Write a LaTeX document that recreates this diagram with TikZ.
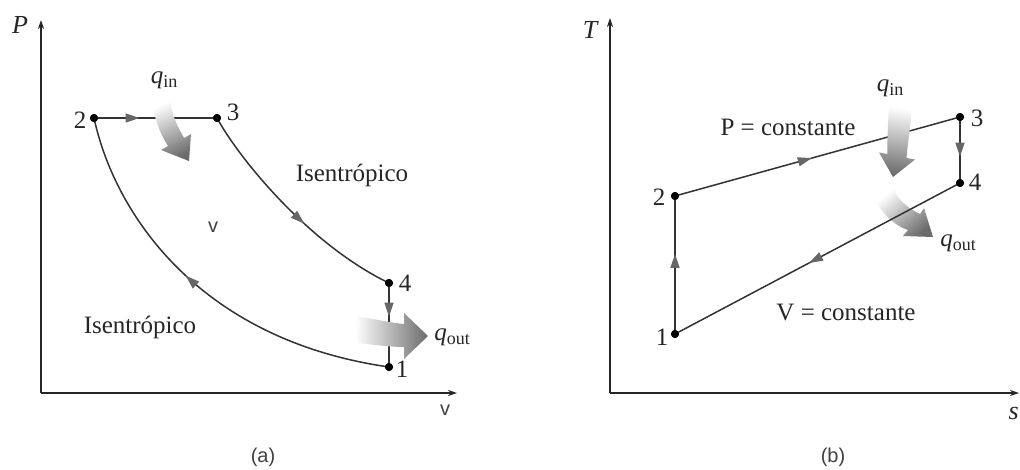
\documentclass[tikz,border=0pt]{standalone}
\usepackage{fontspec}
\setmainfont{Liberation Serif}
\newfontfamily\sansf{Liberation Sans}
\usetikzlibrary{arrows.meta,decorations.markings}
\begin{document}
\begin{tikzpicture}[x=1pt,y=-1pt,
  axis/.style={line width=2pt, draw=black!85, -{Stealth[length=9pt,width=6pt]}},
  cycleline/.style={line width=1.5pt, draw=black!80},
  midarrow/.style={postaction={decorate, decoration={markings, mark=at position #1 with {\arrow{Triangle[length=14pt,width=9pt,color=black!60]}}}}},
  dot/.style={circle, fill=black, inner sep=0pt, minimum size=8pt},
  lbl/.style={font=\fontsize{25}{28}\selectfont, inner sep=0pt, text=black!85},
  num/.style={font=\fontsize{25}{28}\selectfont, inner sep=0pt, text=black!85},
  sanslbl/.style={font=\sansf\fontsize{20}{24}\selectfont, inner sep=0pt, text=black!75},
  heat/.style={draw=none}
]
\useasboundingbox[fill=white] (0,0) rectangle (1020,469);

% ---------------- (a) P-v diagram ----------------
\coordinate (oa) at (41,393);
\coordinate (pa) at (41,20);
\coordinate (va) at (457,393);
\draw[axis] (oa) -- (pa);
\draw[axis] (oa) -- (va);

\node[dot] (p2) at (94,118) {};
\node[dot] (p3) at (217,118) {};
\node[dot] (p4) at (389,283) {};
\node[dot] (p1) at (389,367) {};

\draw[cycleline, midarrow=0.37] (p2.center) -- (p3.center);
\draw[cycleline, midarrow=0.57] (p3.center) .. controls (240,160) and (310,245) .. (p4.center);
\draw[cycleline, midarrow=0.40] (p4.center) -- (p1.center);
\draw[cycleline, midarrow=0.55] (p1.center) .. controls (200,340) and (115,215) .. (p2.center);

% heat in (a)
\shade[heat, top color=white, bottom color=black!58, shading angle=25]
  (152,99) .. controls (154,120) and (161,135) .. (168,146) -- (161,150)
  -- (189,161) -- (191,134) -- (184,138)
  .. controls (178,127) and (172,117) .. (170,99) -- cycle;
% heat out (a)
\shade[heat, left color=white, right color=black!58]
  (355,316) .. controls (375,319) and (392,323) .. (404,324) -- (404,313)
  -- (428,336) -- (404,359) -- (404,347)
  .. controls (392,347) and (375,345) .. (358,343) -- cycle;

\foreach \n in {p1,p2,p3,p4} \node[dot] at (\n) {};

\node[lbl, font=\fontsize{26}{28}\selectfont\itshape] (lP) at (20,25) {P};
\node[sanslbl] (lv) at (445,410) {v};
\node[num] (l2) at (80,120) {2};
\node[num] (l3) at (233,112) {3};
\node[num] (l4) at (405,283) {4};
\node[num] (l1) at (402,369) {1};
\node[lbl] (qina) at (164,80) {\textit{q}\raisebox{-0.35ex}{\fontsize{18}{20}\selectfont in}};
\node[lbl] (qouta) at (452,337) {\textit{q}\raisebox{-0.35ex}{\fontsize{18}{20}\selectfont out}};
\node[lbl] (isa) at (352,175) {Isentrópico};
\node[lbl] (isb) at (140,327) {Isentrópico};
\node[sanslbl] (vmid) at (213,227) {v};
\node[sanslbl] (capa) at (263,457) {(a)};

% ---------------- (b) T-s diagram ----------------
\coordinate (ob) at (610,393);
\coordinate (tb) at (610,18);
\coordinate (sb) at (1019,393);
\draw[axis] (ob) -- (tb);
\draw[axis] (ob) -- (sb);

\node[dot] (q1) at (675,334) {};
\node[dot] (q2) at (675,196) {};
\node[dot] (q3) at (960,117) {};
\node[dot] (q4) at (960,183) {};

% heat out (b), under the line
\shade[heat, top color=white, bottom color=black!58, shading angle=40]
  (874,195) .. controls (879,212) and (895,226) .. (908,230) -- (903,236)
  -- (933,237) -- (924,208) -- (920,214)
  .. controls (908,208) and (898,200) .. (894,190) -- cycle;

\draw[cycleline, midarrow=0.48] (q2.center) -- (q3.center);
\draw[cycleline, midarrow=0.60] (q3.center) -- (q4.center);
\draw[cycleline, midarrow=0.53] (q4.center) -- (q1.center);
\draw[cycleline, midarrow=0.58] (q1.center) -- (q2.center);

% heat in (b)
\shade[heat, top color=white, bottom color=black!58, shading angle=-8]
  (889,105) .. controls (888,125) and (887,140) .. (887.5,154) -- (879,152.5)
  -- (893,177) -- (915,159.5) -- (906.5,158)
  .. controls (908,140) and (911,125) .. (912,105) -- cycle;

\foreach \n in {q1,q2,q3,q4} \node[dot] at (\n) {};

\node[lbl, font=\fontsize{26}{28}\selectfont\itshape] (lT) at (590,30) {T};
\node[lbl, font=\fontsize{26}{28}\selectfont\itshape, anchor=east] (ls) at (1019,413) {s};
\node[num] (m2) at (659,197) {2};
\node[num] (m3) at (977,118) {3};
\node[num] (m4) at (975,182) {4};
\node[num] (m1) at (662,337) {1};
\node[lbl] (qinb) at (890,88) {\textit{q}\raisebox{-0.35ex}{\fontsize{18}{20}\selectfont in}};
\node[lbl] (qoutb) at (958,243) {\textit{q}\raisebox{-0.35ex}{\fontsize{18}{20}\selectfont out}};
\node[lbl] (pc) at (788,127) {P = constante};
\node[lbl] (vc) at (846,312) {V = constante};
\node[sanslbl] (capb) at (833,457) {(b)};
\end{tikzpicture}
\end{document}
